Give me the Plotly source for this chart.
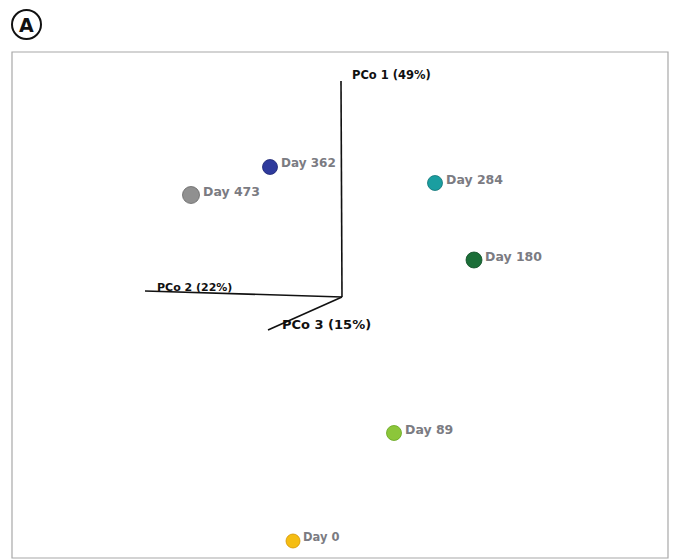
import plotly.graph_objects as go

# ---- data (projected PCoA positions) ----
days = ["Day 0", "Day 89", "Day 180", "Day 284", "Day 362", "Day 473"]
proj_x = [293, 394, 474, 435, 270, 191]
proj_y = [541, 433, 260, 183, 167, 195]
colors = ["#f5bd12", "#8cc63a", "#1b6e38", "#1a9ea0", "#2e3a9c", "#909090"]
edge_colors = ["#d49400", "#65a51c", "#0e4c24", "#0f7476", "#1c2472", "#666666"]

axis_names = ["PCo 1 (49%)", "PCo 2 (22%)", "PCo 3 (15%)"]
axis_origin = (342, 297)
axis_end_x = [341, 145, 268]
axis_end_y = [81, 291, 330]

W, H = 675, 560
fig = go.Figure()

# axes of the ordination
for i in range(3):
    fig.add_trace(go.Scatter(
        x=[axis_origin[0], axis_end_x[i]], y=[axis_origin[1], axis_end_y[i]],
        mode="lines", line=dict(color="#111111", width=1.6),
        hoverinfo="skip", showlegend=False))

sizes = [14, 15, 16, 15, 15, 17]
fig.add_trace(go.Scatter(
    x=proj_x, y=proj_y, mode="markers",
    marker=dict(size=sizes, color=colors, opacity=1,
                line=dict(width=0.8, color=edge_colors)),
    text=days, hoverinfo="text", showlegend=False))

label_sizes = [11.5, 12.5, 12.5, 12.5, 12, 12.5]
annotations = []
for i, d in enumerate(days):
    annotations.append(dict(
        x=proj_x[i], y=proj_y[i], xref="x", yref="y", text=d, showarrow=False,
        xanchor="left", yanchor="middle", xshift=sizes[i] / 2 + 1, yshift=4,
        font=dict(family="DejaVu Sans", size=label_sizes[i], color="#7b7b82", weight="bold")))

# axis labels
annotations += [
    dict(x=350, y=75, xref="x", yref="y", text=axis_names[0], showarrow=False,
         xanchor="left", yanchor="middle",
         font=dict(family="DejaVu Sans", size=11.5, color="#111111", weight="bold")),
    dict(x=155, y=287, xref="x", yref="y", text=axis_names[1], showarrow=False,
         xanchor="left", yanchor="middle",
         font=dict(family="DejaVu Sans", size=11, color="#111111", weight="bold")),
    dict(x=280, y=324, xref="x", yref="y", text=axis_names[2], showarrow=False,
         xanchor="left", yanchor="middle",
         font=dict(family="DejaVu Sans", size=13, color="#111111", weight="bold")),
    dict(x=26, y=25, xref="x", yref="y", text="A", showarrow=False,
         xanchor="center", yanchor="middle",
         font=dict(family="DejaVu Sans", size=19, color="#111111", weight="bold")),
]

shapes = [
    dict(type="rect", xref="x", yref="y", x0=12, y0=52, x1=668, y1=558,
         line=dict(color="#a8a8a8", width=1.2), fillcolor="rgba(0,0,0,0)", layer="below"),
    dict(type="circle", xref="x", yref="y", x0=12, y0=10, x1=41, y1=39,
         line=dict(color="#111111", width=2)),
]

fig.update_layout(
    width=W, height=H, margin=dict(l=0, r=0, t=0, b=0),
    paper_bgcolor="white", plot_bgcolor="white",
    xaxis=dict(range=[0, W], visible=False, fixedrange=True),
    yaxis=dict(range=[H, 0], visible=False, fixedrange=True),
    annotations=annotations, shapes=shapes,
)

fig.write_html("out.html")
